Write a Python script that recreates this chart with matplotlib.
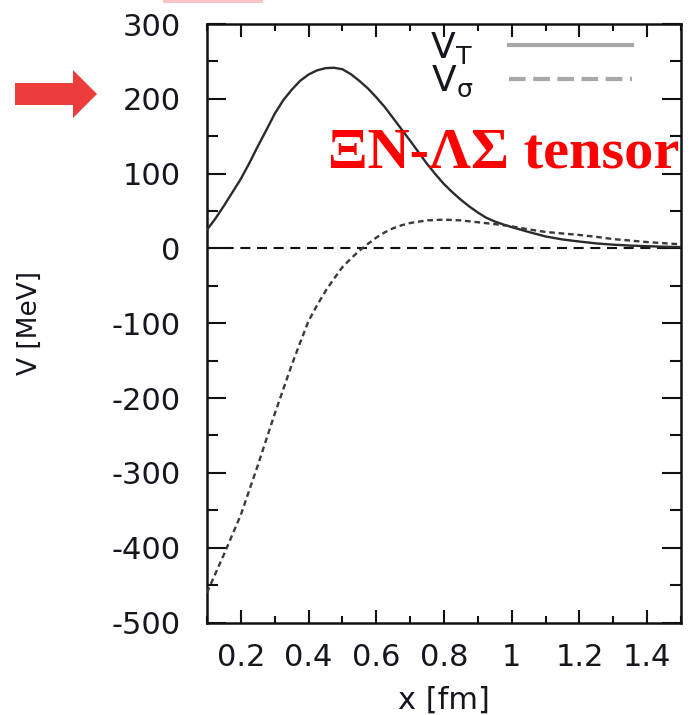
import matplotlib
matplotlib.use("Agg")
import matplotlib.pyplot as plt
from matplotlib.ticker import MultipleLocator, FuncFormatter
from matplotlib.lines import Line2D
from matplotlib.patches import FancyArrow, Rectangle

plt.rcParams["axes.unicode_minus"] = False
plt.rcParams["font.family"] = ["DejaVu Sans"]
plt.rcParams["mathtext.fontset"] = "dejavusans"

# tensor potential V_T [MeV] versus relative distance x [fm]
x_tensor = [0.100, 0.125, 0.150, 0.175, 0.200, 0.225, 0.250, 0.275, 0.300, 0.325,
            0.350, 0.375, 0.400, 0.425, 0.450, 0.475, 0.500, 0.525, 0.550, 0.575,
            0.600, 0.625, 0.650, 0.675, 0.700, 0.725, 0.750, 0.775, 0.800, 0.825,
            0.850, 0.875, 0.900, 0.925, 0.950, 0.975, 1.000, 1.050, 1.100, 1.150,
            1.200, 1.250, 1.300, 1.350, 1.400, 1.450, 1.500]
v_tensor = [25, 40, 57, 75, 93, 114, 136.5, 158, 180, 198,
            212, 224, 232.5, 238, 241, 241.5, 239.5, 233, 224, 214,
            202, 189, 174, 159, 144, 128.5, 113, 99, 86, 75,
            65, 56, 48, 41, 36, 32, 28.5, 22, 16, 12,
            9.2, 6.7, 5, 3.8, 3, 2.3, 1.8]

# spin-spin potential V_sigma [MeV]
x_sigma = [0.100, 0.150, 0.200, 0.250, 0.300, 0.350, 0.375, 0.400, 0.425, 0.450,
           0.475, 0.500, 0.525, 0.550, 0.575, 0.600, 0.625, 0.650, 0.675, 0.700,
           0.750, 0.800, 0.850, 0.900, 0.950, 1.000, 1.050, 1.100, 1.150, 1.200,
           1.250, 1.300, 1.350, 1.400, 1.450, 1.500]
v_sigma = [-460, -409, -356, -290, -221, -156, -126, -97, -76, -57,
           -40.5, -25, -13.5, -3, 6, 14.5, 21.5, 27, 31, 34,
           37.5, 38.5, 37.5, 35, 32.5, 29.5, 25.5, 22, 20, 18,
           15.5, 12.5, 10.5, 8.5, 7, 5.5]

x_ticks = [0.2, 0.4, 0.6, 0.8, 1.0, 1.2, 1.4]
y_ticks = [-500, -400, -300, -200, -100, 0, 100, 200, 300]
series_labels = [r"$\mathrm{V_T}$", r"$\mathrm{V_\sigma}$"]
title_text = "ΞN-ΛΣ tensor"

W, H = 692, 715
fig = plt.figure(figsize=(W / 100, H / 100), dpi=100)
ax = fig.add_axes([207 / W, 1 - 622.5 / H, 474 / W, 598.5 / H])

ink = "#16161f"
ax.axhline(0, color="#111111", lw=1.5, ls=(0, (4.8, 3.2)), zorder=1)
ax.plot(x_tensor, v_tensor, color="#2b2b2b", lw=1.7, solid_joinstyle="round", zorder=3)
ax.plot(x_sigma, v_sigma, color="#3a3a3a", lw=1.7, ls=(0, (2.4, 1.6)), zorder=3)

ax.set_xlim(0.1, 1.5)
ax.set_ylim(-500, 300)
ax.set_xticks(x_ticks)
ax.set_yticks(y_ticks)
ax.xaxis.set_minor_locator(MultipleLocator(0.1))
ax.yaxis.set_minor_locator(MultipleLocator(50))
ax.xaxis.set_major_formatter(FuncFormatter(lambda v, p: "%g" % round(v, 2)))

ax.tick_params(axis="both", which="both", direction="in", top=True, right=True,
               width=1.5, colors="#111111", labelcolor=ink, labelsize=22)
ax.tick_params(axis="x", which="major", length=9.4, pad=15)
ax.tick_params(axis="x", which="minor", length=5)
ax.tick_params(axis="y", which="major", length=13.7, pad=19)
ax.tick_params(axis="y", which="minor", length=8)
for s in ax.spines.values():
    s.set_linewidth(1.8)
    s.set_color("#111111")

ax.set_xlabel("x [fm]", fontsize=22, color=ink)
ax.xaxis.set_label_coords(0.5, -0.106)
ax.set_ylabel("V [MeV]", fontsize=19, color=ink, va="center", ha="center")
ax.yaxis.set_label_coords(-0.373, 0.5)

handles = [Line2D([], [], color="#a8a8a8", lw=3),
           Line2D([], [], color="#a8a8a8", lw=3, ls=(0, (4, 1.8)))]
leg = ax.legend(handles, series_labels, loc="upper right",
                bbox_to_anchor=(0.8966, 0.99), markerfirst=False, frameon=False,
                fontsize=26, handlelength=3.4, handletextpad=1.0,
                labelspacing=-0.05, borderpad=0, borderaxespad=0)
for t in leg.get_texts():
    t.set_color(ink)

ax.text((328 - 207) / 474, (622.5 - 167) / 598.5, title_text,
        transform=ax.transAxes, ha="left", va="baseline",
        fontsize=42, color="#ff0000", family=["Liberation Serif", "DejaVu Serif"],
        fontweight="bold", zorder=5)

fig.patches.append(FancyArrow(15 / W, 1 - 94 / H, 82 / W, 0, width=22 / H,
                              head_width=48 / H, head_length=24 / W,
                              length_includes_head=True, transform=fig.transFigure,
                              facecolor="#ec3c3c", edgecolor="none"))
fig.patches.append(Rectangle((163 / W, 1 - 3 / H), 100 / W, 3 / H,
                             transform=fig.transFigure, facecolor="#f8c6c6",
                             edgecolor="none"))

fig.savefig("out.png", dpi=100)
